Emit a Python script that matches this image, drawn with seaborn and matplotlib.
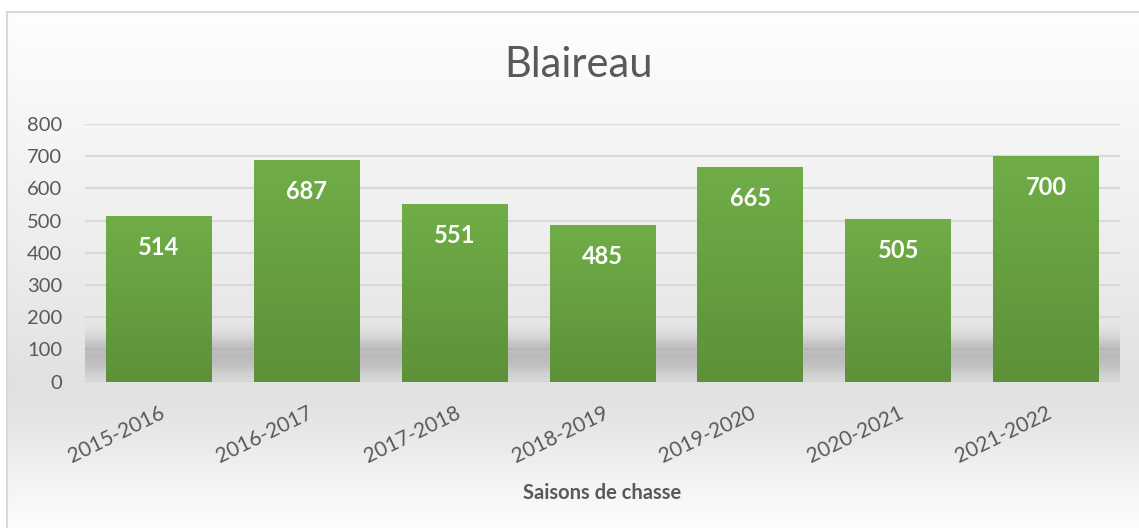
import numpy as np
import matplotlib
matplotlib.use("Agg")
import matplotlib.pyplot as plt
import seaborn as sns
from matplotlib.colors import LinearSegmentedColormap
from matplotlib.lines import Line2D

# ---- data ----
seasons = ["2015-2016", "2016-2017", "2017-2018", "2018-2019",
           "2019-2020", "2020-2021", "2021-2022"]
counts = [514, 687, 551, 485, 665, 505, 700]
yticks = [0, 100, 200, 300, 400, 500, 600, 700, 800]
title = "Blaireau"
xlabel = "Saisons de chasse"

sns.set_theme(style="white")
plt.rcParams["font.family"] = ["Lato", "DejaVu Sans"]

W, H = 1139, 528
fig = plt.figure(figsize=(W / 100, H / 100), dpi=100)
fig.patch.set_facecolor("white")

# background gradient (Excel style)
bg = fig.add_axes([0, 0, 1, 1], zorder=-10)
bg.axis("off")
ys = np.arange(H)
stop_y = [0, 12, 120, 250, 385, 420, 480, 528]
stop_v = [255, 254, 246, 237, 225, 229, 243, 254]
g = np.interp(ys, stop_y, stop_v) / 255.0
img = np.repeat(g[:, None], W, axis=1)
rgb = np.dstack([img, img, img])
rgb[:12, :, :] = 1.0
rgb[:, :7, :] = 1.0
bg.imshow(rgb, extent=[0, 1, 0, 1], aspect="auto", interpolation="bilinear")
bg.set_xlim(0, 1)
bg.set_ylim(0, 1)

# main axes
x0, x1 = 85, 1120
y_top, y_bot = 124, 381.7
ax = fig.add_axes([x0 / W, 1 - y_bot / H, (x1 - x0) / W, (y_bot - y_top) / H])
ax.set_facecolor("none")

sns.barplot(x=seasons, y=counts, color="#6aa744", saturation=1,
            width=0.716, ax=ax, zorder=3, linewidth=0, edgecolor="none")

ax.set_xlim(-0.5, len(seasons) - 0.5)
ax.set_ylim(0, 800)
ax.set_yticks(yticks)
ax.yaxis.grid(True, color="#d9d9d9", lw=1.5)
ax.set_axisbelow(True)
for s in ax.spines.values():
    s.set_visible(False)
ax.set_xlabel("")
ax.set_ylabel("")

# floor shadow band
vals = np.linspace(0, 200, 200)
alpha = np.interp(vals, [0, 20, 52, 80, 114, 150, 185, 200],
                  [0.03, 0.07, 0.15, 0.18, 0.15, 0.04, 0.0, 0.0])
shadow = np.zeros((len(vals), 1, 4))
shadow[:, 0, 3] = alpha
ax.imshow(shadow, extent=[-0.5, len(seasons) - 0.5, 0, 200], origin="lower",
          aspect="auto", zorder=2, interpolation="bilinear")

# bar gradients
green = LinearSegmentedColormap.from_list("g", ["#5d9139", "#70ad47"])
grad = np.linspace(0, 1, 256).reshape(-1, 1)
for p in ax.patches:
    bx, bw, bh = p.get_x(), p.get_width(), p.get_height()
    im = ax.imshow(grad, extent=[bx, bx + bw, 0, bh], origin="lower",
                   aspect="auto", cmap=green, zorder=3.5,
                   interpolation="bilinear")
    im.set_clip_path(p)
    ax.annotate(f"{int(round(bh))}", xy=(bx + bw / 2, bh),
                xytext=(0, -22.5), textcoords="offset points",
                ha="center", va="center", color="white",
                fontweight="bold", fontsize=17, zorder=5)

ax.set_xlim(-0.5, len(seasons) - 0.5)
ax.set_ylim(0, 800)

ax.tick_params(axis="y", length=0, pad=16.5, labelsize=14.5,
               labelcolor="#595959")
ax.tick_params(axis="x", length=0, pad=15, labelsize=15,
               labelcolor="#595959")
for lbl in ax.get_xticklabels():
    lbl.set_rotation(26)
    lbl.set_ha("right")
    lbl.set_va("top")
    lbl.set_rotation_mode("anchor")

# titles
fig.text(579 / W, 1 - 77 / H, title, ha="center", va="baseline",
         fontsize=30, color="#595959")
fig.text(602 / W, 1 - 499 / H, xlabel, ha="center", va="baseline",
         fontsize=14.5, fontweight="bold", color="#595959")

# chart border (top and left visible)
fig.add_artist(Line2D([7 / W, 1], [1 - 12 / H, 1 - 12 / H],
                      transform=fig.transFigure, color="#d9d9d9", lw=1.5))
fig.add_artist(Line2D([7 / W, 7 / W], [0, 1 - 12 / H],
                      transform=fig.transFigure, color="#d9d9d9", lw=1.5))

fig.savefig("out.png", dpi=100)
